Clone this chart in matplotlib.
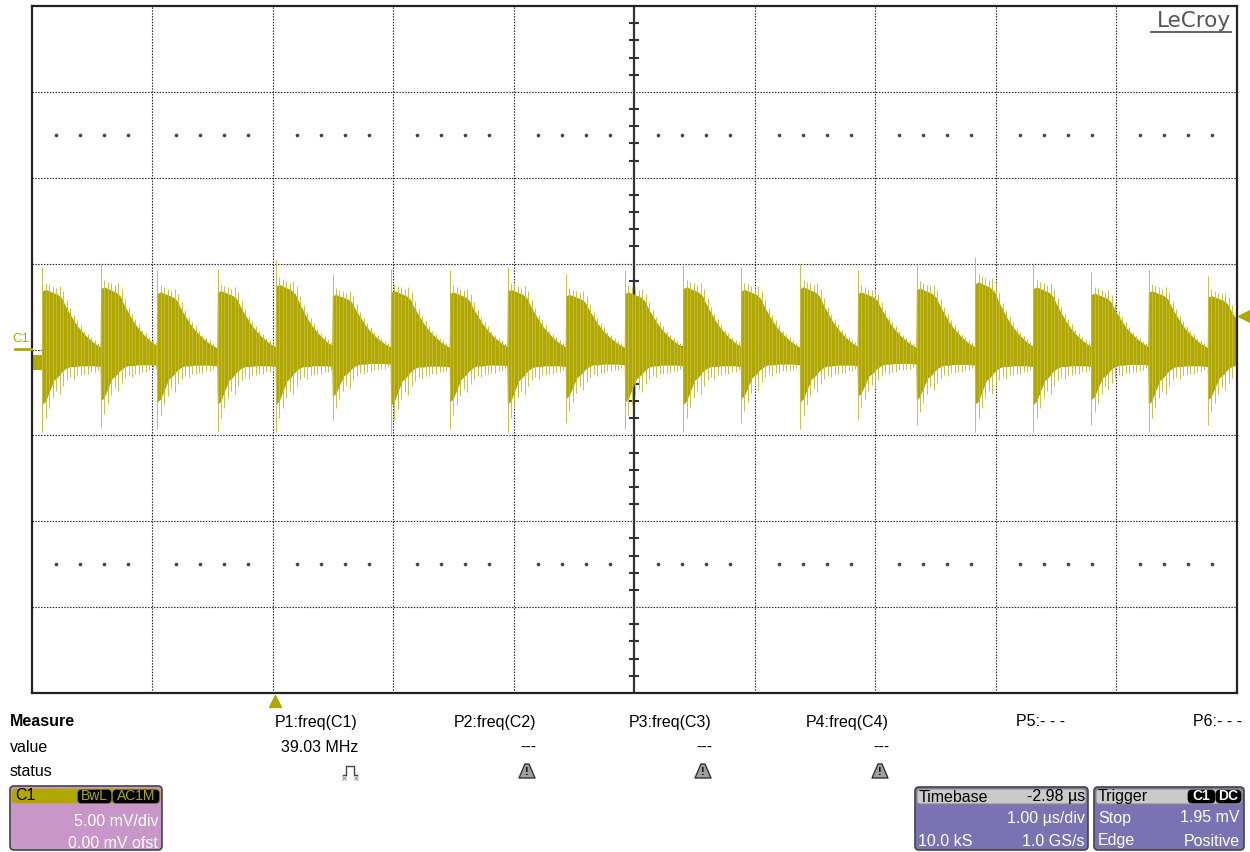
import numpy as np
import matplotlib
matplotlib.use("Agg")
import matplotlib.pyplot as plt
import matplotlib.transforms as mtransforms
from matplotlib.patches import FancyBboxPatch, Polygon

plt.rcParams['font.family'] = ['Liberation Sans', 'DejaVu Sans']

# burst starts (us from left edge of screen) and peak spikes (mV)
burst_start = [0.085, 0.569, 1.039, 1.538, 2.022, 2.492, 2.976, 3.466, 3.945, 4.429, 4.919,
               5.403, 5.882, 6.372, 6.851, 7.339, 7.825, 8.309, 8.788, 9.264, 9.757]
burst_top = [4.8, 5.0, 4.6, 4.7, 5.2, 4.4, 4.7, 4.6, 4.8, 4.4, 4.6,
             5.0, 4.8, 5.0, 4.6, 4.9, 5.4, 5.0, 4.5, 4.7, 4.3]
burst_bottom = [-4.8, -4.5, -4.6, -4.8, -4.8, -4.1, -4.9, -4.6, -4.8, -4.3, -4.6,
                -4.8, -4.3, -4.6, -4.1, -4.4, -4.8, -4.8, -4.4, -4.8, -4.4]

# shape of one burst (offset in us from its start), read from a clean burst
fill_dt = [0.0, 0.004, 0.033, 0.066, 0.1, 0.133, 0.166, 0.2, 0.232, 0.274, 0.315, 0.374, 0.432, 0.5]
fill_top = [0.1, 3.4, 3.5, 3.4, 3.3, 3.2, 3.0, 2.5, 2.1, 1.6, 1.2, 0.75, 0.4, 0.1]
fill_bot = [-1.0, -3.2, -3.0, -2.4, -1.8, -1.6, -1.3, -1.1, -1.0, -1.0, -0.95, -0.95, -0.95, -1.0]
spike_dt = [0.006, 0.035, 0.063, 0.092, 0.12, 0.149, 0.178, 0.207, 0.236, 0.265,
            0.294, 0.322, 0.351, 0.38, 0.41, 0.44, 0.465]
spike_top = [4.8, 3.9, 3.8, 3.7, 3.6, 3.7, 3.4, 2.9, 2.4, 2.0, 1.7, 1.4, 1.1, 0.9, 0.7, 0.55, 0.4]
spike_bot = [-4.8, -4.0, -3.4, -2.8, -2.4, -2.6, -2.1, -1.8, -1.6, -1.7, -1.5, -1.5,
             -1.4, -1.4, -1.3, -1.3, -1.2]
lead_top, lead_bot = -0.3, -1.2

trig_delay = -2.98   # us
trig_level = 1.95    # mV

param_names = ['P1:freq(C1)', 'P2:freq(C2)', 'P3:freq(C3)', 'P4:freq(C4)', 'P5:- - -', 'P6:- - -']
param_values = ['39.03 MHz', '---', '---', '---', '', '']
param_status = ['ok', 'warn', 'warn', 'warn', '', '']
param_right = [358, 536, 712, 889, 1065, 1242]

olive = '#b0a800'
W, H = 1250, 852
fig = plt.figure(figsize=(W / 100, H / 100), dpi=100)
ax = fig.add_axes([31.5 / W, (H - 693) / H, 1205 / W, 687 / H])
ax.set_xlim(0, 10)
ax.set_ylim(-20, 20)
ax.set_xticks([])
ax.set_yticks([])
for s in ax.spines.values():
    s.set_linewidth(1.6)
    s.set_color('#222')
    s.set_zorder(6)

# graticule
dot = (0, (1.3, 1.3))
for gx in range(1, 10):
    if gx != 5:
        ax.axvline(gx, color='#222', lw=0.8, ls=dot, zorder=1)
for gy in range(-15, 20, 5):
    ax.axhline(gy, color='#222', lw=0.8, ls=dot, zorder=1)
ax.axvline(5, color='#333', lw=1.6, zorder=1)
yt = [v for v in range(-19, 20) if v % 5]
ax.hlines(yt, 4.96, 5.04, color='#333', lw=1.5, zorder=1)
xt = [k * 0.2 for k in range(1, 50) if k % 5]
ax.vlines(xt, -0.22, 0.22, color='#333', lw=1.3, zorder=1)
for yd in (12.5, -12.5):
    ax.plot(xt, [yd] * len(xt), ls='none', marker='o', ms=1.6, color='#444', zorder=1)

# trace
ax.fill_between([0, burst_start[0]], lead_top, lead_bot, color=olive, lw=0, zorder=3)
for t0, a_top, a_bot in zip(burst_start, burst_top, burst_bottom):
    kt = a_top / spike_top[0]
    kb = a_bot / spike_bot[0]
    ax.fill_between(t0 + np.array(fill_dt), np.array(fill_top) * kt, np.array(fill_bot) * kb,
                    color=olive, lw=0, zorder=3)
for t0, a_top, a_bot in zip(burst_start, burst_top, burst_bottom):
    kt = a_top / spike_top[0]
    kb = a_bot / spike_bot[0]
    ax.vlines(t0 + np.array(spike_dt), np.array(spike_bot) * kb, np.array(spike_top) * kt,
              color='#c4bc3c', lw=0.65, zorder=4)

# trigger markers
right_off = mtransforms.ScaledTranslation(7 / 100, 0, fig.dpi_scale_trans)
down_off = mtransforms.ScaledTranslation(0, -8 / 100, fig.dpi_scale_trans)
ax.plot(10, trig_level, marker='<', ms=9, color=olive, clip_on=False,
        transform=ax.transData + right_off, zorder=7)
ax.plot(5 + trig_delay, -20, marker='^', ms=8, color=olive, clip_on=False,
        transform=ax.transData + down_off, zorder=7)

# overlay in pixel coordinates for labels and panels
ov = fig.add_axes([0, 0, 1, 1], zorder=5)
ov.set_xlim(0, W)
ov.set_ylim(H, 0)
ov.axis('off')
ov.patch.set_alpha(0)

ov.text(12, 339, 'C1', color=olive, fontsize=9.5, va='center')
ov.plot([15, 31], [349, 349], color=olive, lw=2)

ov.text(1231, 21, 'LeCroy', ha='right', va='center', color='#555', fontsize=15.5,
        family='DejaVu Sans')
ov.plot([1151, 1231], [32, 32], color='#555', lw=1.3)

fs = 11.5
ov.text(10, 722, 'Measure', weight='bold', va='center', fontsize=fs)
ov.text(10, 747, 'value', va='center', fontsize=fs)
ov.text(10, 772, 'status', va='center', fontsize=fs)
for name, val, st, xr in zip(param_names, param_values, param_status, param_right):
    ov.text(xr, 722, name, ha='right', va='center', fontsize=fs)
    if val:
        ov.text(xr, 747, val, ha='right', va='center', fontsize=fs)
    if st == 'ok':
        ov.plot([343, 346, 346, 354, 354, 357], [775, 775, 766, 766, 775, 775], color='#444', lw=1)
        ov.plot([344, 356], [778, 778], ls='none', marker='x', ms=3, color='#999', mew=0.8)
    elif st == 'warn':
        cx = xr - 9
        ov.add_patch(Polygon([(cx - 8, 778), (cx + 8, 778), (cx + 2, 764), (cx - 2, 764)],
                             closed=True, fc='#a0a0a0', ec='#333', lw=1, joinstyle='round'))
        ov.text(cx, 772, '!', ha='center', va='center', fontsize=8, weight='bold')


def box(x, y, w, h, fc, ec='#444', r=4, lw=1.2):
    ov.add_patch(FancyBboxPatch((x, y), w, h, boxstyle=f'round,pad=0,rounding_size={r}',
                                fc=fc, ec=ec, lw=lw))


# channel box
box(10, 786, 152, 64, '#c896c8')
box(12, 789, 148, 14, olive, ec=olive, r=3, lw=0.5)
ov.text(15, 796, 'C1', va='center', fontsize=fs)
box(78, 790, 33, 13, 'black', ec='black', r=3, lw=0.5)
ov.text(94.5, 796.5, 'BwL', ha='center', va='center', color=olive, fontsize=10)
box(113, 790, 46, 13, 'black', ec='black', r=3, lw=0.5)
ov.text(136, 796.5, 'AC1M', ha='center', va='center', color=olive, fontsize=10)
ov.text(158, 822, '5.00 mV/div', ha='right', va='center', color='white', fontsize=fs)
ov.text(158, 843, '0.00 mV ofst', ha='right', va='center', color='white', fontsize=fs)

# timebase box
purple = '#7a72b2'
box(915, 787, 173, 63, purple)
box(917, 789, 169, 15, '#cacaca', ec='#888', r=3, lw=0.8)
ov.text(919, 797, 'Timebase', va='center', fontsize=fs)
ov.text(1085, 797, f'{trig_delay:.2f} µs', ha='right', va='center', fontsize=fs)
ov.text(1085, 818, '1.00 µs/div', ha='right', va='center', color='white', fontsize=fs)
ov.text(918, 841, '10.0 kS', va='center', color='white', fontsize=fs)
ov.text(1085, 841, '1.0 GS/s', ha='right', va='center', color='white', fontsize=fs)

# trigger box
box(1094, 787, 150, 63, purple)
box(1096, 789, 146, 15, '#cacaca', ec='#888', r=3, lw=0.8)
ov.text(1098, 797, 'Trigger', va='center', fontsize=fs)
box(1188, 790, 27, 13, 'black', ec='black', r=4, lw=0.5)
ov.text(1201.5, 796.5, 'C1', ha='center', va='center', color='white', fontsize=10, weight='bold')
box(1216, 790, 25, 13, 'black', ec='black', r=4, lw=0.5)
ov.text(1228.5, 796.5, 'DC', ha='center', va='center', color='white', fontsize=10, weight='bold')
ov.text(1098, 818, 'Stop', va='center', color='white', fontsize=fs)
ov.text(1240, 818, f'{trig_level:.2f} mV', ha='right', va='center', color='white', fontsize=fs)
ov.text(1098, 841, 'Edge', va='center', color='white', fontsize=fs)
ov.text(1240, 841, 'Positive', ha='right', va='center', color='white', fontsize=fs)

fig.savefig('out.png', dpi=100)
